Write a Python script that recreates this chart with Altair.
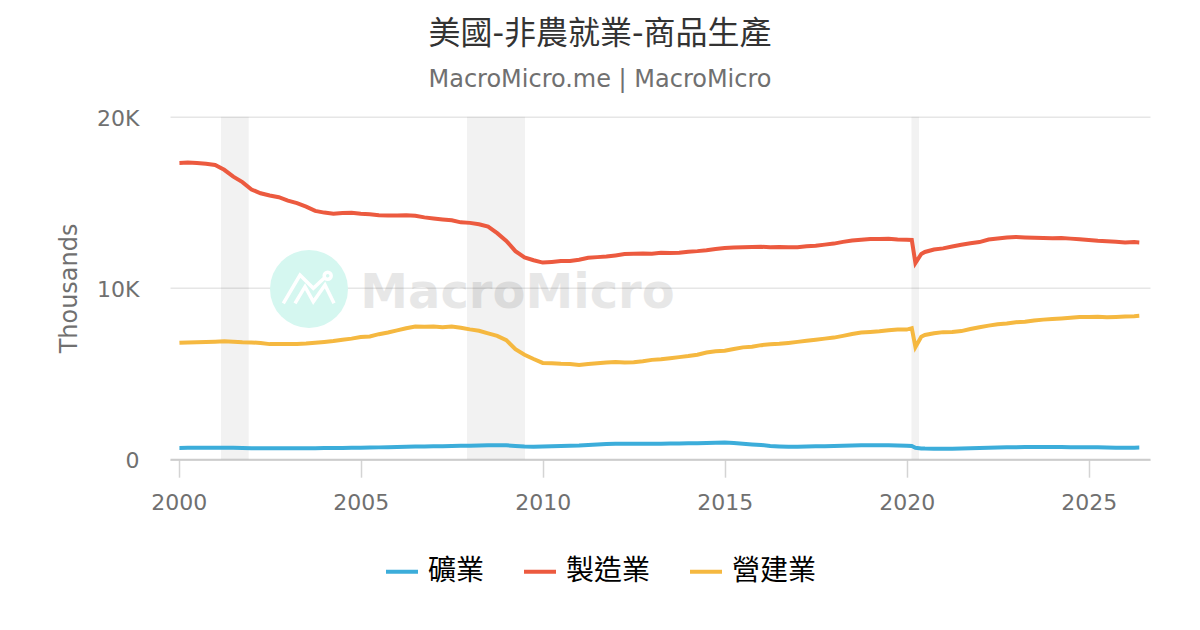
import altair as alt
import pandas as pd

YEARS = [
    2000.02, 2000.25, 2000.5, 2000.75,
    2001.0, 2001.25, 2001.5, 2001.75,
    2002.0, 2002.25, 2002.5, 2002.75,
    2003.0, 2003.25, 2003.5, 2003.75,
    2004.0, 2004.25, 2004.5, 2004.75,
    2005.0, 2005.25, 2005.5, 2005.75,
    2006.0, 2006.25, 2006.5, 2006.75,
    2007.0, 2007.25, 2007.5, 2007.75,
    2008.0, 2008.25, 2008.5, 2008.75,
    2009.0, 2009.25, 2009.5, 2009.75,
    2010.0, 2010.25, 2010.5, 2010.75,
    2011.0, 2011.25, 2011.5, 2011.75,
    2012.0, 2012.25, 2012.5, 2012.75,
    2013.0, 2013.25, 2013.5, 2013.75,
    2014.0, 2014.25, 2014.5, 2014.75,
    2015.0, 2015.25, 2015.5, 2015.75,
    2016.0, 2016.25, 2016.5, 2016.75,
    2017.0, 2017.25, 2017.5, 2017.75,
    2018.0, 2018.25, 2018.5, 2018.75,
    2019.0, 2019.25, 2019.5, 2019.75,
    2020.0, 2020.14, 2020.24, 2020.4, 2020.5, 2020.75,
    2021.0, 2021.25, 2021.5, 2021.75,
    2022.0, 2022.25, 2022.5, 2022.75,
    2023.0, 2023.25, 2023.5, 2023.75,
    2024.0, 2024.25, 2024.5, 2024.75,
    2025.0, 2025.25, 2025.5, 2025.75,
    2026.0, 2026.25, 2026.39,
]
MINING = [
    660, 665, 665, 665,
    670, 670, 665, 655,
    645, 640, 635, 635,
    635, 635, 635, 640,
    650, 655, 660, 670,
    675, 680, 690, 700,
    715, 725, 735, 745,
    755, 760, 770, 780,
    785, 800, 810, 815,
    810, 770, 735, 725,
    735, 755, 770, 790,
    800, 830, 860, 880,
    895, 905, 905, 905,
    900, 905, 910, 915,
    925, 930, 945, 960,
    970, 945, 900, 860,
    830, 775, 745, 725,
    725, 735, 750, 760,
    770, 790, 805, 815,
    820, 815, 810, 795,
    780, 770, 665, 630, 620, 615,
    610, 615, 625, 640,
    650, 665, 680, 695,
    700, 710, 715, 715,
    710, 705, 695, 695,
    695, 695, 685, 675,
    670, 675, 680,
]
MANUFACTURING = [
    17300, 17320, 17300, 17250,
    17180, 16900, 16500, 16180,
    15750, 15530, 15400, 15300,
    15100, 14950, 14750, 14500,
    14400, 14340, 14380, 14390,
    14330, 14300, 14250, 14230,
    14230, 14250, 14220, 14120,
    14060, 14000, 13950, 13830,
    13800, 13720, 13580, 13200,
    12750, 12150, 11780, 11620,
    11480, 11520, 11570, 11580,
    11650, 11760, 11800, 11830,
    11900, 11980, 12000, 12010,
    12000, 12050, 12040, 12060,
    12120, 12150, 12200, 12270,
    12330, 12360, 12380, 12390,
    12410, 12370, 12390, 12370,
    12380, 12430, 12460, 12530,
    12590, 12690, 12770, 12820,
    12860, 12860, 12870, 12830,
    12820, 12800, 11450, 11980, 12100, 12240,
    12310, 12420, 12520, 12610,
    12680, 12830, 12890, 12950,
    12980, 12950, 12930, 12910,
    12900, 12920, 12880, 12850,
    12800, 12750, 12730, 12700,
    12660, 12680, 12660,
]
CONSTRUCTION = [
    6800, 6820, 6830, 6850,
    6860, 6880, 6860, 6830,
    6820, 6780, 6720, 6730,
    6730, 6720, 6750, 6800,
    6850, 6900, 6980, 7040,
    7130, 7170, 7300, 7400,
    7520, 7650, 7750, 7740,
    7750, 7700, 7750, 7680,
    7580, 7500, 7350, 7200,
    6950, 6420, 6100, 5850,
    5620, 5600, 5570, 5560,
    5500, 5560, 5600, 5640,
    5680, 5640, 5660, 5720,
    5800, 5840, 5900, 5960,
    6020, 6100, 6230, 6300,
    6330, 6430, 6530, 6570,
    6660, 6710, 6740, 6790,
    6850, 6920, 6980, 7040,
    7100, 7200, 7310, 7400,
    7430, 7470, 7530, 7570,
    7570, 7650, 6550, 7150, 7250, 7350,
    7420, 7430, 7480, 7600,
    7700, 7800, 7880, 7930,
    8000, 8030, 8100, 8150,
    8180, 8220, 8260, 8300,
    8310, 8320, 8290, 8310,
    8330, 8350, 8370,
]
SERIES_NAMES = ["礦業", "製造業", "營建業"]
SERIES_COLORS = ["#3cadda", "#ec5a3f", "#f5b840"]
BAND_START = [2001.16, 2007.92, 2020.13]
BAND_END = [2001.923, 2009.514, 2020.34]
X_TICKS = [2000, 2005, 2010, 2015, 2020, 2025]
Y_TICKS = [0, 10000, 20000]

FONT = "DejaVu Sans, Noto Sans CJK TC"
PLOT_W, PLOT_H = 980, 342.5

lines = pd.DataFrame({
    "year": YEARS * 3,
    "value": MINING + MANUFACTURING + CONSTRUCTION,
    "series": [SERIES_NAMES[0]] * len(YEARS) + [SERIES_NAMES[1]] * len(YEARS) + [SERIES_NAMES[2]] * len(YEARS),
})
bands = pd.DataFrame({"start": BAND_START, "end": BAND_END})
single = pd.DataFrame({"a": [0]})

x_scale = alt.Scale(domain=[1999.761, 2026.684], nice=False, zero=False)
y_scale = alt.Scale(domain=[0, 20000], nice=False)

band_layer = alt.Chart(bands).mark_rect(color="#000000", opacity=0.052).encode(
    x=alt.X("start:Q", scale=x_scale, title=None,
            axis=alt.Axis(values=X_TICKS, format="d", grid=False, labelFont=FONT, labelFontSize=22,
                          labelColor="#707070", domainColor="#cccccc", domainWidth=2, tickColor="#d4d4d4",
                          tickWidth=1.5, tickSize=18, labelPadding=15, labelFlush=False, labelOverlap=False)),
    x2="end:Q",
)

circle = alt.Chart(single).mark_point(shape="circle", filled=True, fill="#d5f7f0", opacity=1, size=6084).encode(
    x=alt.value(139), y=alt.value(172.3)
)
ICON = ("M-.257,.143L-.09,-.14L.043,-.007L.15,-.107 "
        "M.222,-.133A.035,.035 0 1 1 .152,-.133A.035,.035 0 1 1 .222,-.133 "
        "M-.14,.143L-.04,-.023L.043,.127L.16,-.04L.25,.143")
icon = alt.Chart(single).mark_point(shape=ICON, filled=False, stroke="#ffffff", strokeWidth=3.5, opacity=1, size=40000).encode(
    x=alt.value(139), y=alt.value(172.3)
)
wordmark = alt.Chart(single).mark_text(
    text="MacroMicro", font="DejaVu Sans", fontSize=48, fontWeight="bold", align="center", baseline="alphabetic",
    color="#000000", opacity=0.09,
).encode(x=alt.value(347.5), y=alt.value(191.3))

line_layer = alt.Chart(lines).mark_line(strokeWidth=4, interpolate="linear").encode(
    x=alt.X("year:Q", scale=x_scale),
    y=alt.Y("value:Q", scale=y_scale, title="Thousands",
            axis=alt.Axis(values=Y_TICKS, labelExpr="datum.value==0?'0':(datum.value/1000)+'K'",
                          grid=True, gridColor="#e6e6e6", gridWidth=1.5, domain=False, ticks=False,
                          labelFont=FONT, labelFontSize=22, labelColor="#707070", labelPadding=31, labelOffset=1.5,
                          titleFont=FONT, titleFontSize=24, titleColor="#707070", titleFontWeight="normal",
                          titleX=-89)),
    color=alt.Color("series:N", sort=SERIES_NAMES,
                    scale=alt.Scale(domain=SERIES_NAMES, range=SERIES_COLORS),
                    legend=alt.Legend(title=None, orient="none", legendX=214, legendY=437, direction="horizontal",
                                      columns=3, symbolType="stroke", symbolSize=1024, symbolStrokeWidth=4,
                                      labelFont=FONT, labelFontSize=28, labelColor="#000000", labelOffset=8,
                                      columnPadding=31, padding=0, labelLimit=300)),
)

chart = alt.layer(band_layer, circle, icon, wordmark, line_layer).properties(
    width=PLOT_W,
    height=PLOT_H,
    autosize=alt.AutoSizeParams(type="none"),
    padding={"left": 162, "top": 108.7, "right": 42, "bottom": 160},
    title=alt.TitleParams(
        text="美國-非農就業-商品生產", subtitle="MacroMicro.me | MacroMicro",
        anchor="middle", dx=-60, offset=14, font=FONT, fontSize=32, fontWeight="normal", color="#333333",
        subtitleFont=FONT, subtitleFontSize=24, subtitleColor="#707070", subtitlePadding=17,
    ),
).configure_view(stroke=None)

chart.save("out.html", embed_options={"renderer": "svg", "actions": False})
